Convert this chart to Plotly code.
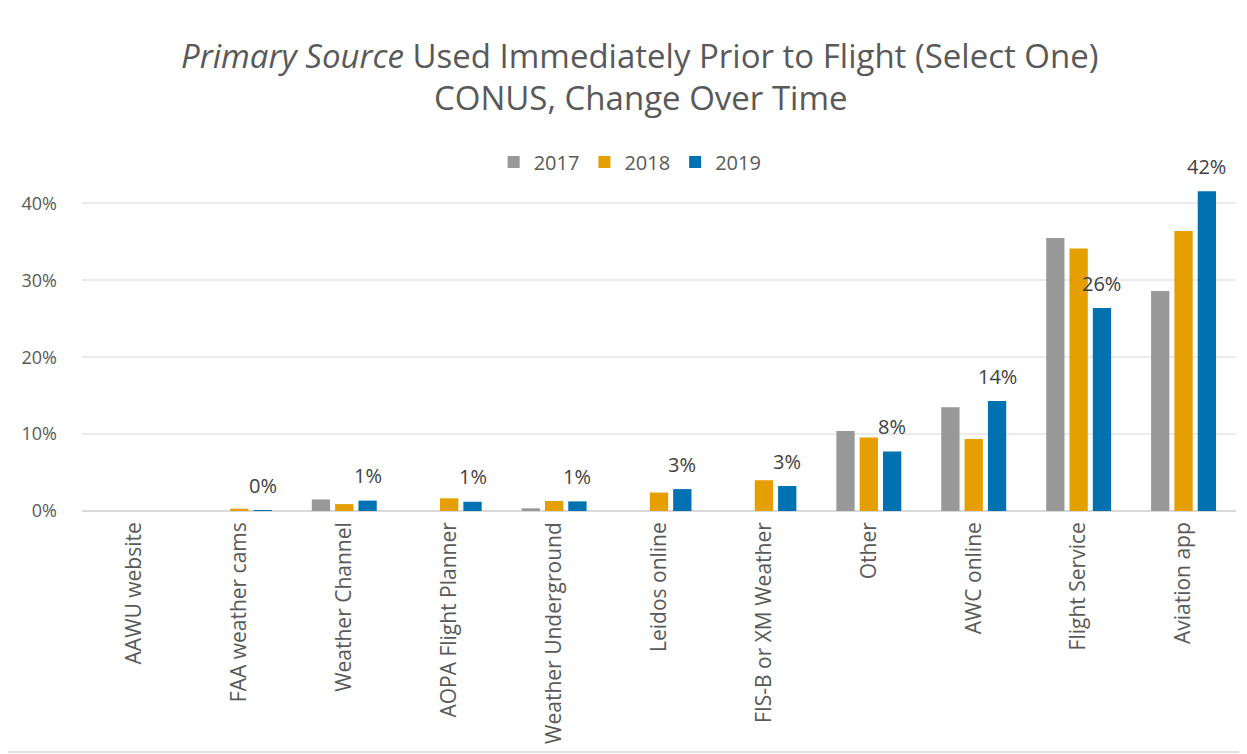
import plotly.graph_objects as go

categories = ["AAWU website", "FAA weather cams", "Weather Channel", "AOPA Flight Planner",
              "Weather Underground", "Leidos online", "FIS-B or XM Weather", "Other",
              "AWC online", "Flight Service", "Aviation app"]
v2017 = [0, 0, 0.015, 0, 0.0035, 0, 0, 0.104, 0.135, 0.355, 0.286]
v2018 = [0, 0.003, 0.009, 0.0165, 0.013, 0.024, 0.040, 0.0955, 0.0935, 0.3415, 0.364]
v2019 = [None, 0.0001, 0.0135, 0.012, 0.0125, 0.0285, 0.0325, 0.0775, 0.143, 0.264, 0.416]
series_names = ["2017", "2018", "2019"]
colors = ["#999999", "#E69F00", "#0072B2"]

FONT = "Open Sans"
OFF = 8  # page body margin
W, H = 1247 - OFF, 754 - OFF
L, R, T, B = 82 - OFF, 11, 165 - OFF, 243

def px_x(px):
    return (px - OFF - L) / (W - L - R)

def px_y(py):
    return (H - B - (py - OFF)) / (H - B - T)

fig = go.Figure()
for name, vals, col in zip(series_names, [v2017, v2018, v2019], colors):
    fig.add_trace(go.Bar(x=categories, y=vals, name=name,
                         marker=dict(color=col, line=dict(width=0))))

# data labels for 2019 series
slot = (W - L - R) / len(categories) * (1 - 0.333) / 3
for cat, val in zip(categories, v2019):
    if val is None:
        continue
    fig.add_annotation(x=cat, y=val, xref="x", yref="y", text=f"{val:.0%}",
                       showarrow=False, xanchor="center", yanchor="middle",
                       xshift=slot, yshift=25,
                       font=dict(family=FONT, size=20, color="#404040"))

fig.update_layout(
    width=W, height=H,
    margin=dict(l=L, r=R, t=T, b=B, autoexpand=False),
    paper_bgcolor="white", plot_bgcolor="white",
    barmode="group", bargap=0.333, bargroupgap=0.215,
    font=dict(family=FONT, color="#595959"),
    showlegend=True,
    legend=dict(orientation="h", x=0.475, xanchor="center", y=px_y(162), yanchor="middle",
                font=dict(family=FONT, size=20, color="#595959"),
                itemwidth=30, traceorder="normal"),
)
fig.update_xaxes(tickangle=-90, tickfont=dict(family=FONT, size=21, color="#595959"),
                 showgrid=False, showline=False, ticks="", ticklabelstandoff=6,
                 automargin=False)
fig.update_yaxes(range=[0, 0.45], tickvals=[0, 0.1, 0.2, 0.3, 0.4], tickformat=".0%",
                 tickfont=dict(family=FONT, size=18, color="#595959"),
                 showgrid=True, gridcolor="#EBEBEB", gridwidth=1.5,
                 zeroline=True, zerolinecolor="#D9D9D9", zerolinewidth=2,
                 ticks="", ticklabelstandoff=24, automargin=False)

fig.add_annotation(text="<i>Primary Source</i> Used Immediately Prior to Flight (Select One)",
                   xref="paper", yref="paper", x=px_x(640), y=px_y(55),
                   xanchor="center", yanchor="middle", showarrow=False,
                   font=dict(family=FONT, size=33, color="#595959"))
fig.add_annotation(text="CONUS, Change Over Time",
                   xref="paper", yref="paper", x=px_x(641), y=px_y(98),
                   xanchor="center", yanchor="middle", showarrow=False,
                   font=dict(family=FONT, size=33, color="#595959"))

fig.add_shape(type="rect", xref="paper", yref="paper",
              x0=px_x(-20), x1=px_x(1244), y0=px_y(752), y1=px_y(-20),
              line=dict(color="#D9D9D9", width=1.5), fillcolor="rgba(0,0,0,0)", layer="below")

fig.write_html("out.html")
